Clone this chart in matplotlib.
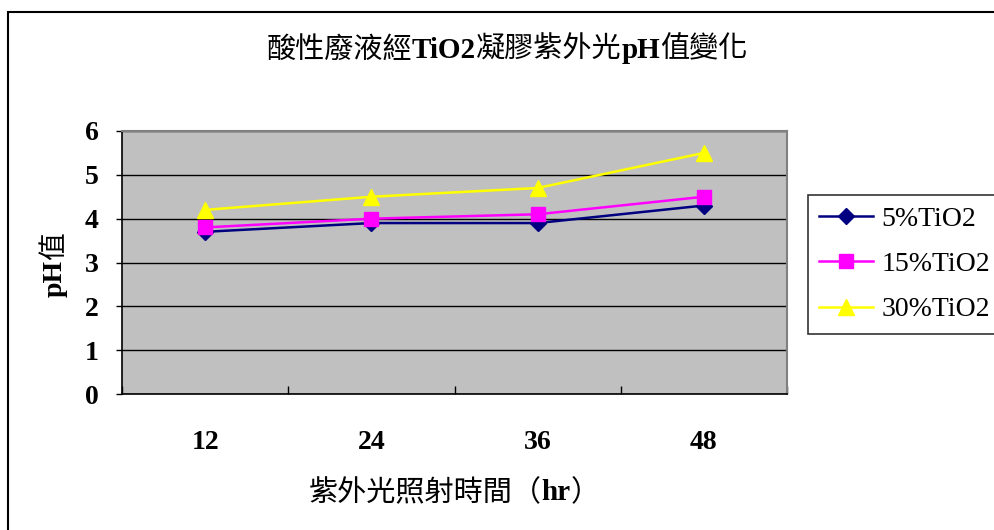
import matplotlib
matplotlib.use("Agg")
import matplotlib.pyplot as plt
from matplotlib.patches import Rectangle

plt.rcParams['font.family'] = ['Liberation Serif', 'Noto Sans CJK TC']

hours = ["12", "24", "36", "48"]
ph_5 = [3.7, 3.9, 3.9, 4.3]
ph_15 = [3.8, 4.0, 4.1, 4.5]
ph_30 = [4.2, 4.5, 4.7, 5.5]
series_names = ["5%TiO2", "15%TiO2", "30%TiO2"]
y_ticks = [0, 1, 2, 3, 4, 5, 6]

title_runs = [("酸性廢液經", "normal"), ("TiO2", "bold"), ("凝膠紫外光", "normal"),
              ("pH", "bold"), ("值變化", "normal")]
xlabel_runs = [("紫外光照射時間（", "normal"), ("hr", "bold"), ("）", "normal")]
ylabel_runs = [("pH", "bold"), ("值", "normal")]

fig = plt.figure(figsize=(9.94, 5.30), dpi=100)
W, H = 994, 530

# outer chart frame
fig.patches.append(Rectangle((8 / W, -0.05), 1.2, 1 - 12 / H + 0.05,
                             transform=fig.transFigure, fill=False,
                             edgecolor="black", linewidth=1.5))

ax = fig.add_axes([122 / W, 1 - 394 / H, (787 - 122) / W, (394 - 131) / H])
ax.set_facecolor("#C0C0C0")

x = [i + 0.5 for i in range(len(hours))]
ax.plot(x, ph_5, color="#000080", marker="D", markersize=8, linewidth=1.8,
        label=series_names[0], zorder=3)
ax.plot(x, ph_15, color="#FF00FF", marker="s", markersize=10, linewidth=1.8,
        label=series_names[1], zorder=4)
ax.plot(x, ph_30, color="#FFFF00", marker="^", markersize=11, linewidth=1.8,
        label=series_names[2], zorder=5)

ax.set_xlim(0, len(hours))
ax.set_ylim(0, 6)
ax.set_yticks(y_ticks)
ax.set_yticklabels([str(v) for v in y_ticks], fontsize=20, fontweight="bold")
ax.yaxis.grid(True, color="black", linewidth=1.0)
ax.set_axisbelow(True)

ax.set_xticks(range(len(hours) + 1))
ax.set_xticklabels([])
ax.set_xticks(x, minor=True)
ax.set_xticklabels(hours, minor=True, fontsize=20, fontweight="bold")
ax.tick_params(axis="x", which="major", direction="in", length=6, width=1)
ax.tick_params(axis="x", which="minor", length=0, pad=26)
ax.tick_params(axis="y", direction="out", length=4, width=1, pad=13)

for side in ("top", "right"):
    ax.spines[side].set_color("#808080")
    ax.spines[side].set_linewidth(1.5)
for side in ("left", "bottom"):
    ax.spines[side].set_color("black")
    ax.spines[side].set_linewidth(1.2)

renderer = fig.canvas.get_renderer()


def mixed_text(runs, cx, cy, size, vertical=False):
    """Draw runs of text with differing weights, centred at (cx, cy) in pixels."""
    pieces = []
    total = 0.0
    for s, w in runs:
        t = fig.text(0, 0, s, fontsize=size, fontweight=w,
                     rotation=90 if vertical else 0,
                     ha="left" if not vertical else "center",
                     va="center" if not vertical else "bottom",
                     transform=None)
        bb = t.get_window_extent(renderer)
        length = bb.height if vertical else bb.width
        pieces.append((t, length))
        total += length
    pos = -total / 2
    for t, length in pieces:
        if vertical:
            t.set_position((cx, H - cy + pos))
        else:
            t.set_position((cx + pos, H - cy))
        pos += length


mixed_text(title_runs, 507, 50, 21)
mixed_text(xlabel_runs, 454, 493, 21)
mixed_text(ylabel_runs, 55, 265, 20, vertical=True)

leg = fig.legend(loc="upper left", bbox_to_anchor=(808 / W, 1 - 195 / H),
                 fontsize=20, frameon=True, fancybox=False, shadow=False,
                 handlelength=1.95, labelspacing=0.72, borderpad=0.4,
                 handletextpad=0.3, borderaxespad=0)
leg.get_frame().set_edgecolor("black")
leg.get_frame().set_linewidth(1.2)

fig.savefig("out.png", dpi=100)
